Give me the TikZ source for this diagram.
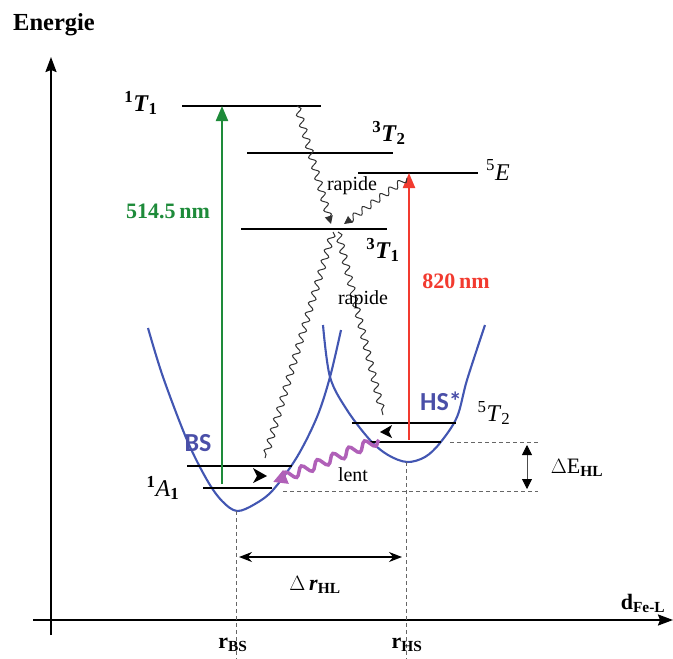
\documentclass[tikz,border=0pt]{standalone}
\usepackage{fontspec}
\setmainfont{Liberation Serif}
\newfontfamily\calib{Carlito}
\usetikzlibrary{arrows.meta,decorations.pathmorphing}
\definecolor{curveblue}{HTML}{4256B2}
\definecolor{labblue}{HTML}{4A4FA8}
\definecolor{exgreen}{HTML}{1E8B3A}
\definecolor{exred}{HTML}{F23A2F}
\definecolor{slowpurple}{HTML}{B060B8}
\tikzset{
  levelline/.style={line width=2.4pt},
  wavy/.style={draw=black!80, line width=1pt, decorate,
    decoration={snake, amplitude=3.2pt, segment length=11pt, post length=3pt}},
  lbl/.style={font=\fontsize{22}{26}\selectfont, inner sep=0pt},
  dashline/.style={draw=black!60, line width=0.7pt, dash pattern=on 4pt off 3pt},
  axisline/.style={line width=2pt, -{Stealth[length=15pt,width=11pt,inset=2pt]}},
  pes/.style={draw=curveblue, line width=2.1pt},
  excite/.style={line width=2.2pt, -{Triangle[length=15pt,width=12pt]}},
  smallhead/.style={-{Triangle[length=8pt,width=8pt]}},
}
\begin{document}
\begin{tikzpicture}[x=1pt,y=-1pt]
\clip (0,0) rectangle (673,659);
% axes
\coordinate (yb) at (51,635); \coordinate (yt) at (51,57);
\coordinate (xl) at (33,620); \coordinate (xr) at (673,620);
\draw[axisline] (yb) -- (yt);
\draw[axisline] (xl) -- (xr);
\node[lbl, font=\fontsize{24.5}{28}\selectfont\bfseries] (energie) at (54,25) {Energie};
\node[lbl] (dfel) at (643,603) {\textbf{d}\textsubscript{\textbf{Fe-L}}};

% potential curves
\draw[pes] plot[smooth, tension=0.55] coordinates {(148,328) (163,377) (187,440) (207,480) (222,501) (237,511) (255,504) (273,490) (297,457) (317,417) (330,377) (341,330)};
\draw[pes] plot[smooth, tension=0.55] coordinates {(323,325) (330,377) (347,410) (370,440) (388,455) (407,462) (425,457) (440,443) (457,417) (467,380) (485,325)};

% dashed guides
\coordinate (bsmin) at (236,511); \coordinate (bsbot) at (236,659);
\coordinate (hsmin) at (406,462); \coordinate (hsbot) at (406,659);
\draw[dashline] (bsmin) -- (bsbot);
\draw[dashline] (hsmin) -- (hsbot);
\coordinate (dh1a) at (450,442); \coordinate (dh1b) at (538,442);
\coordinate (dh2a) at (283,491); \coordinate (dh2b) at (538,491);
\draw[dashline] (dh1a) -- (dh1b);
\draw[dashline] (dh2a) -- (dh2b);

% levels
\coordinate (t1a) at (182,106); \coordinate (t1b) at (321,106);
\coordinate (t2a) at (247,153); \coordinate (t2b) at (393,153);
\coordinate (ea) at (358,173);  \coordinate (eb) at (478,173);
\coordinate (t3a) at (241,229); \coordinate (t3b) at (387,229);
\coordinate (bsua) at (187,466); \coordinate (bsub) at (292,466);
\coordinate (bsla) at (203,488); \coordinate (bslb) at (272,488);
\coordinate (hsua) at (352,423); \coordinate (hsub) at (456,423);
\coordinate (hsla) at (366,442); \coordinate (hslb) at (441,442);
\foreach \a/\b in {t1a/t1b,t2a/t2b,ea/eb,t3a/t3b,bsua/bsub,bsla/bslb,hsua/hsub,hsla/hslb}
  \draw[levelline] (\a) -- (\b);

% excitation arrows
\coordinate (gbot) at (222,484); \coordinate (gtop) at (222,106);
\draw[excite, exgreen] (gbot) -- (gtop);
\coordinate (rbot) at (409,440); \coordinate (rtop) at (409,173);
\draw[excite, exred] (rbot) -- (rtop);
\node[lbl, exgreen, font=\fontsize{22}{26}\selectfont\bfseries] (g514) at (168,211) {514.5\,nm};
\node[lbl, exred, font=\fontsize{22}{26}\selectfont\bfseries] (r820) at (456,281) {820\,nm};

% wavy relaxations
\coordinate (w1s) at (297,106); \coordinate (w1e) at (331,224);
\coordinate (w2s) at (407,178); \coordinate (w2e) at (344,224);
\draw[wavy, smallhead] (w1s) -- (w1e);
\draw[wavy, smallhead] (w2s) -- (w2e);
\coordinate (w3s) at (333,232); \coordinate (w3e) at (265,458);
\coordinate (w4s) at (338,232); \coordinate (w4e) at (383,415);
\draw[wavy] (w3s) -- (w3e);
\draw[wavy] (w4s) -- (w4e);
\node[lbl, font=\fontsize{20}{24}\selectfont] (rap1) at (352,186) {rapide};
\node[lbl, font=\fontsize{20}{24}\selectfont] (rap2) at (363,300) {rapide};

% small arrowheads on levels
\fill (253,468) -- (267,476) -- (253,483) -- (257,476) -- cycle;
\fill (392,425) -- (380,432) -- (392,438) -- (389,432) -- cycle;

% slow relaxation
\coordinate (ls) at (379,440); \coordinate (le) at (273,482);
\draw[slowpurple, line width=3.5pt, decorate,
  decoration={snake, amplitude=4.5pt, segment length=17pt, post length=8pt},
  -{Triangle[length=14pt,width=14pt]}] (ls) -- (le);
\node[lbl, font=\fontsize{20}{24}\selectfont] (lent) at (353,475) {lent};

% state labels
\node[lbl, font=\fontsize{24}{28}\selectfont] (lT1) at (141,103) {\textbf{\textsuperscript{1}}\textbf{\textit{T}}\textsubscript{\textbf{1}}};
\node[lbl, font=\fontsize{24}{28}\selectfont] (lT2) at (389,133) {\textbf{\textsuperscript{3}}\textbf{\textit{T}}\textsubscript{\textbf{2}}};
\node[lbl, font=\fontsize{24}{28}\selectfont] (lE) at (498,170) {\textsuperscript{5}\textit{E}};
\node[lbl, font=\fontsize{24}{28}\selectfont] (lT31) at (383,250) {\textbf{\textsuperscript{3}}\textbf{\textit{T}}\textsubscript{\textbf{1}}};
\node[lbl, font=\fontsize{24}{28}\selectfont] (l5T2) at (494,413) {\textsuperscript{5}\textit{T}\textsubscript{2}};
\node[lbl, font=\fontsize{24}{28}\selectfont] (l1A1) at (163,488) {\textbf{\textsuperscript{1}}\textit{A}\textsubscript{\textbf{1}}};
\node[lbl, labblue, font=\calib\fontsize{26}{30}\selectfont\bfseries] (bs) at (198,443) {BS};
\node[lbl, labblue, font=\calib\fontsize{26}{30}\selectfont\bfseries] (hs) at (441,401) {HS*};

% energy difference
\coordinate (dea) at (527,445); \coordinate (deb) at (527,489);
\draw[line width=0.8pt, black!70, {Triangle[length=10pt,width=10pt,color=black]}-{Triangle[length=10pt,width=10pt,color=black]}] (dea) -- (deb);
\node[lbl] (dEHL) at (577,468) {$\Delta$E\textsubscript{\textbf{HL}}};

% distance difference
\coordinate (dra) at (239,557); \coordinate (drb) at (402,557);
\draw[line width=1.3pt, {Stealth[length=13pt,width=10pt]}-{Stealth[length=13pt,width=10pt]}] (dra) -- (drb);
\node[lbl] (dr) at (315,585) {$\Delta$\,\textbf{\textit{r}}\textsubscript{\textbf{HL}}};

% r labels
\node[lbl] (rbs) at (233,645) {\textbf{r}\textsubscript{\textbf{BS}}};
\node[lbl] (rhs) at (407,645) {\textbf{r}\textsubscript{\textbf{HS}}};
\end{tikzpicture}
\end{document}
